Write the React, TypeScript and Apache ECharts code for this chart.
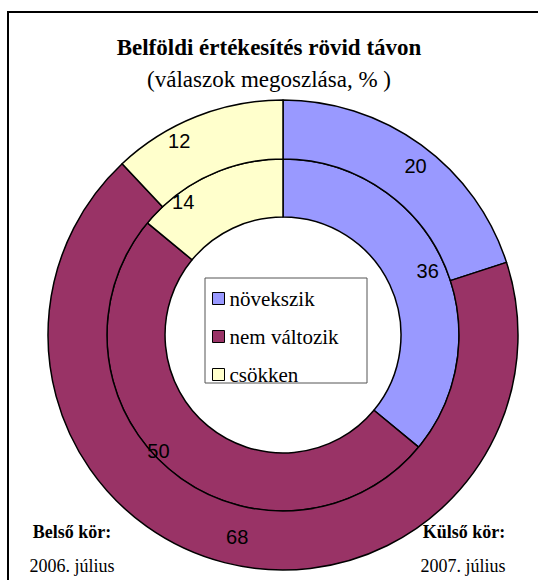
import React, { useEffect, useRef } from "react";
import * as echarts from "echarts";

const categories = ["növekszik", "nem változik", "csökken"];
const inner2006 = [36, 50, 14];
const outer2007 = [20, 68, 12];
const colors = ["#9999FF", "#993366", "#FFFFCC"];
const innerLabelShift = [9, -29, -36];
const outerLabelShift = [10, 6, -27];

const SERIF = "Liberation Serif";
const SANS = "Liberation Sans";

export default function App() {
  const ref = useRef<HTMLDivElement>(null);
  useEffect(() => {
    if (!ref.current) return;
    const chart = echarts.init(ref.current, undefined, { renderer: "svg" });
    const mk = (vals: number[]) =>
      vals.map((v, i) => ({
        name: categories[i],
        value: v,
        itemStyle: { color: colors[i] },
      }));
    const labelCfg = {
      show: true,
      position: "inside",
      formatter: "{v|{c}}",
      rich: { v: { fontFamily: SANS, fontSize: 20, color: "#000" } },
    };
    chart.setOption({
      animation: false,
      textStyle: { fontFamily: SERIF },
      title: {
        text: "Belföldi értékesítés rövid távon",
        subtext: "(válaszok megoszlása, % )",
        left: "center",
        top: 31,
        itemGap: 9,
        textStyle: { fontFamily: SERIF, fontSize: 23, fontWeight: "bold", color: "#000" },
        subtextStyle: { fontFamily: SERIF, fontSize: 23, color: "#000" },
      },
      legend: {
        orient: "vertical",
        left: 205,
        top: 278,
        padding: [10, 8, 2, 7],
        itemGap: 17,
        itemWidth: 12,
        itemHeight: 12,
        icon: "rect",
        data: categories,
        selectedMode: false,
        itemStyle: { borderColor: "#000", borderWidth: 1 },
        textStyle: { fontFamily: SERIF, fontSize: 21, color: "#000" },
      },
      graphic: [
        {
          type: "rect",
          shape: { x: 8, y: 12, width: 600, height: 620 },
          style: { fill: "none", stroke: "#000", lineWidth: 2 },
          silent: true,
        },
        {
          type: "rect",
          shape: { x: 205, y: 278, width: 162, height: 105 },
          style: { fill: "#fff", stroke: "#555", lineWidth: 1 },
          silent: true,
          z: 1,
        },
        {
          type: "text",
          x: 72,
          y: 532,
          style: {
            text: "Belső kör:",
            font: `bold 18px ${SERIF}`,
            fill: "#000",
            textAlign: "center",
            textVerticalAlign: "middle",
          },
        },
        {
          type: "text",
          x: 72,
          y: 566,
          style: {
            text: "2006. július",
            font: `18px ${SERIF}`,
            fill: "#000",
            textAlign: "center",
            textVerticalAlign: "middle",
          },
        },
        {
          type: "text",
          x: 464,
          y: 532,
          style: {
            text: "Külső kör:",
            font: `bold 18px ${SERIF}`,
            fill: "#000",
            textAlign: "center",
            textVerticalAlign: "middle",
          },
        },
        {
          type: "text",
          x: 463,
          y: 566,
          style: {
            text: "2007. július",
            font: `18px ${SERIF}`,
            fill: "#000",
            textAlign: "center",
            textVerticalAlign: "middle",
          },
        },
      ],
      series: [
        {
          name: "2006. július",
          type: "pie",
          center: [283, 335],
          radius: [118, 176],
          startAngle: 90,
          clockwise: true,
          data: mk(inner2006),
          itemStyle: { borderColor: "#000", borderWidth: 1.5 },
          label: labelCfg,
          labelLine: { show: false },
          labelLayout: (p: any) => ({ dx: innerLabelShift[p.dataIndex], dy: p.dataIndex === 2 ? 3 : 0 }),
          emphasis: { disabled: true },
        },
        {
          name: "2007. július",
          type: "pie",
          center: [283, 335],
          radius: [176, 235],
          startAngle: 90,
          clockwise: true,
          data: mk(outer2007),
          itemStyle: { borderColor: "#000", borderWidth: 1.5 },
          label: labelCfg,
          labelLine: { show: false },
          labelLayout: (p: any) => ({ dx: outerLabelShift[p.dataIndex] }),
          emphasis: { disabled: true },
        },
      ],
    });
    return () => chart.dispose();
  }, []);
  return (
    <div
      ref={ref}
      style={{ position: "fixed", left: 0, top: 0, width: 538, height: 580, background: "#fff" }}
    />
  );
}
